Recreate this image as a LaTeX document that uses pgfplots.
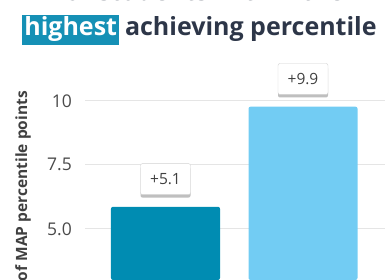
\documentclass[border=0pt]{standalone}
\usepackage{pgfplots}
\pgfplotsset{compat=1.18}
\usepackage{fontspec}
\setmainfont{Open Sans}
\usetikzlibrary{shadows}
\definecolor{titlec}{HTML}{2D3648}
\definecolor{hl}{HTML}{1590B5}
\definecolor{barA}{HTML}{008CB2}
\definecolor{barB}{HTML}{72CCF3}
\definecolor{tickc}{HTML}{4A4A4A}
\definecolor{labc}{HTML}{404040}
\begin{document}
\begin{tikzpicture}[x=1pt,y=1pt]
\path[use as bounding box] (0,0) rectangle (389,280);
\clip (0,0) rectangle (389,280);
\begin{axis}[
  at={(85pt,0pt)}, anchor=south west,
  scale only axis, width=300pt, height=280pt,
  xmin=85, xmax=385, ymin=3, ymax=13.9375,
  ybar, bar shift=0pt, bar width=109,
  axis line style={draw=none}, tick style={draw=none},
  xtick=\empty,
  ytick={5,7.5,10}, yticklabels={5.0,7.5,10},
  ymajorgrids, major grid style={color=black!10, line width=1pt},
  yticklabel style={inner sep=0pt, xshift=-13pt, font=\fontsize{17.5}{17.5}\selectfont, text=tickc},
  /pgf/number format/assume math mode=true,
  point meta=explicit symbolic,
  nodes near coords,
  every node near coord/.style={anchor=south, yshift=12pt, draw=black!18, fill=white,
    minimum width=50pt, minimum height=31pt, inner sep=0pt, text=labc,
    font=\fontsize{15.5}{15.5}\selectfont,
    drop shadow={shadow xshift=0pt, shadow yshift=-3pt, fill=black!25, opacity=1}},
]
\addplot[draw=none, fill=barA, rounded corners=2pt] coordinates {(165.5,5.86) [+5.1]};
\addplot[draw=none, fill=barB, rounded corners=2pt] coordinates {(303,9.77) [+9.9]};
\end{axis}
\node[anchor=base, inner sep=0pt, text=titlec, font=\bfseries\fontsize{25}{25}\selectfont] at (199.5,279) {for students within the};
\node[anchor=base, inner sep=0pt, text=titlec, font=\bfseries\fontsize{25}{25}\selectfont] at (199.5,244)
  {\setlength{\fboxsep}{2pt}\colorbox{hl}{\strut\color{white}highest}\hspace{6pt}achieving percentile};
\node[anchor=base east, rotate=90, inner sep=0pt, text=labc, font=\bfseries\fontsize{15.5}{15.5}\selectfont] at (27,189) {Number of MAP percentile points};
\end{tikzpicture}
\end{document}
